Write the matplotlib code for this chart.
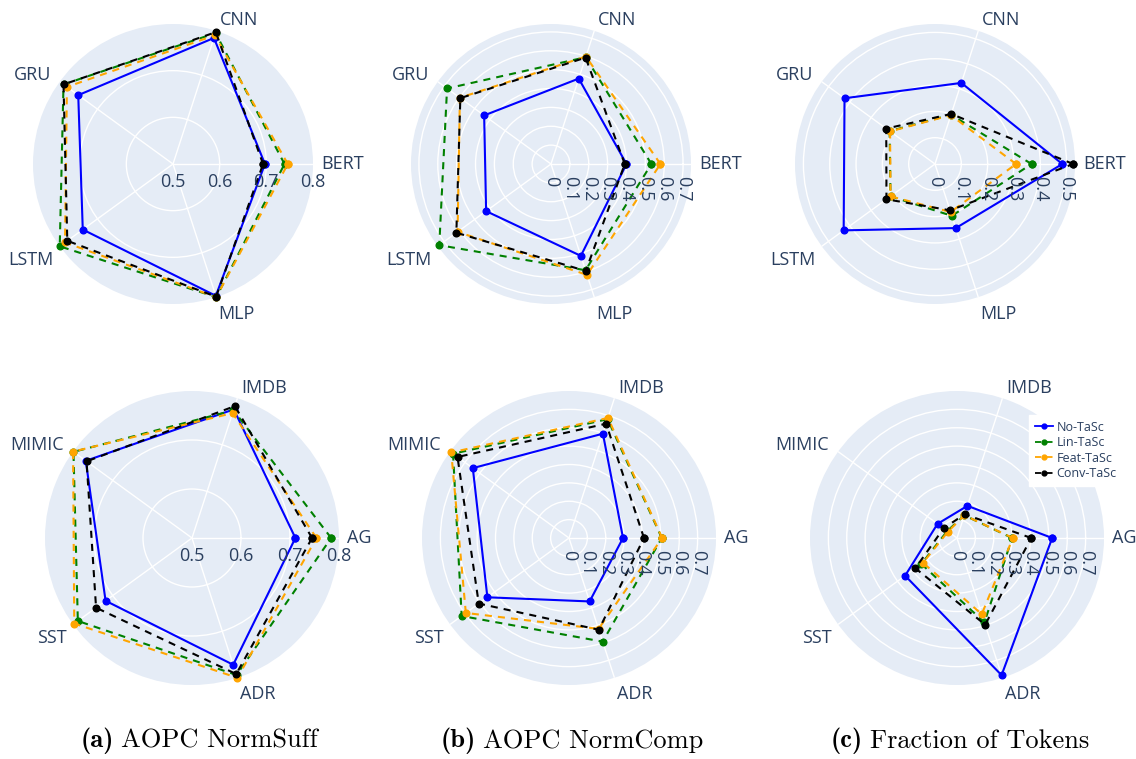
import numpy as np
import matplotlib.pyplot as plt

plt.rcParams['font.family'] = ['Open Sans', 'DejaVu Sans']

MODELS = ['BERT', 'CNN', 'GRU', 'LSTM', 'MLP']
DATASETS = ['AG', 'IMDB', 'MIMIC', 'SST', 'ADR']
METHODS = ['No-TaSc', 'Lin-TaSc', 'Feat-TaSc', 'Conv-TaSc']

# one value per model, in MODELS order
suff_by_model = {
    'No-TaSc':   [0.697, 0.784, 0.751, 0.739, 0.797],
    'Lin-TaSc':  [0.739, 0.795, 0.790, 0.800, 0.800],
    'Feat-TaSc': [0.746, 0.790, 0.781, 0.786, 0.800],
    'Conv-TaSc': [0.693, 0.797, 0.790, 0.780, 0.799],
}
comp_by_model = {
    'No-TaSc':   [0.400, 0.476, 0.438, 0.425, 0.512],
    'Lin-TaSc':  [0.532, 0.595, 0.681, 0.732, 0.592],
    'Feat-TaSc': [0.580, 0.599, 0.597, 0.612, 0.618],
    'Conv-TaSc': [0.391, 0.593, 0.594, 0.620, 0.596],
}
tokens_by_model = {
    'No-TaSc':   [0.484, 0.324, 0.425, 0.429, 0.256],
    'Lin-TaSc':  [0.367, 0.197, 0.213, 0.209, 0.207],
    'Feat-TaSc': [0.308, 0.195, 0.211, 0.209, 0.192],
    'Conv-TaSc': [0.525, 0.200, 0.229, 0.228, 0.185],
}

# one value per dataset, in DATASETS order
suff_by_dataset = {
    'No-TaSc':   [0.711, 0.776, 0.768, 0.718, 0.772],
    'Lin-TaSc':  [0.784, 0.774, 0.799, 0.788, 0.794],
    'Feat-TaSc': [0.754, 0.768, 0.800, 0.797, 0.800],
    'Conv-TaSc': [0.745, 0.783, 0.766, 0.742, 0.792],
}
comp_by_dataset = {
    'No-TaSc':   [0.294, 0.597, 0.647, 0.549, 0.363],
    'Lin-TaSc':  [0.505, 0.680, 0.780, 0.722, 0.593],
    'Feat-TaSc': [0.507, 0.687, 0.792, 0.694, 0.520],
    'Conv-TaSc': [0.408, 0.654, 0.750, 0.607, 0.525],
}
tokens_by_dataset = {
    'No-TaSc':   [0.518, 0.184, 0.131, 0.349, 0.785],
    'Lin-TaSc':  [0.300, 0.130, 0.065, 0.240, 0.483],
    'Feat-TaSc': [0.304, 0.130, 0.060, 0.229, 0.436],
    'Conv-TaSc': [0.404, 0.136, 0.090, 0.280, 0.496],
}

CAPTION_TAGS = ['(a)', '(b)', '(c)']
CAPTION_TEXTS = ['AOPC NormSuff', 'AOPC NormComp', 'Fraction of Tokens']

STYLE = {
    'No-TaSc':   dict(color='#0000ff', linestyle='-'),
    'Lin-TaSc':  dict(color='#008000', linestyle=(0, (3.4, 2.9))),
    'Feat-TaSc': dict(color='#ffa500', linestyle=(0, (3.4, 2.9))),
    'Conv-TaSc': dict(color='#000000', linestyle=(0, (3.4, 2.9))),
}

W, H = 1136, 759
TEXT = '#2a3f5f'
BG = '#E5ECF6'


def add_polar(fig, cx, cy, r):
    return fig.add_axes([(cx - r) / W, (H - cy - r) / H, 2 * r / W, 2 * r / H],
                        projection='polar')


def radar(ax, categories, series, rmin, rmax, grid, ticks, rotated):
    angles = np.deg2rad(np.arange(len(categories)) * 360 / len(categories))

    ax.set_facecolor(BG)
    ax.spines['polar'].set_visible(False)
    ax.set_ylim(rmin, rmax)
    ax.set_xticks(angles)
    ax.set_xticklabels([])
    ax.set_yticks(grid)
    ax.set_yticklabels([])
    ax.tick_params(length=0)
    ax.grid(color='white', linewidth=1)
    ax.set_axisbelow(True)

    closed = np.append(angles, angles[0])
    for z, name in enumerate(METHODS):
        values = series[name]
        ax.plot(closed, values + values[:1], marker='o', markersize=4.8,
                linewidth=1.5, label=name, clip_on=False, zorder=3 + z,
                **STYLE[name])

    # category names just outside the circle
    for theta, cat in zip(angles, categories):
        c, s = np.cos(theta), np.sin(theta)
        ha = 'left' if c > 0.1 else ('right' if c < -0.1 else 'center')
        va = 'top' if s < -0.1 else 'center'
        pad = 11 if s > 0.1 else 8
        ax.annotate(cat, xy=(theta, rmax), xytext=(c * pad, s * pad),
                    textcoords='offset pixels', ha=ha, va=va, fontsize=13,
                    color=TEXT, annotation_clip=False)

    # radial tick labels under the 0 degree spoke
    for v in ticks:
        label = f'{round(v, 1):g}'
        if rotated:
            ax.annotate(label, xy=(0, v), xytext=(0, -12),
                        textcoords='offset pixels', ha='center', va='top',
                        rotation=-90, fontsize=13, color=TEXT,
                        annotation_clip=False, zorder=10)
        else:
            ax.annotate(label, xy=(0, v), xytext=(0, -9),
                        textcoords='offset pixels', ha='center', va='top',
                        fontsize=13, color=TEXT, annotation_clip=False,
                        zorder=10)


fig = plt.figure(figsize=(W / 100, H / 100), dpi=100)

suff_grid = [0.6, 0.7]
suff_ticks = [0.5, 0.6, 0.7, 0.8]
tenths = list(np.round(np.arange(0, 0.75, 0.1), 1))

panels = [
    # centre x, centre y, radius, categories, data, rmin, rmax, grid, ticks, rotated
    (173, 164, 140, MODELS, suff_by_model, 0.5, 0.8, suff_grid, suff_ticks, False),
    (551, 164, 140, MODELS, comp_by_model, 0.0, 0.742, tenths[1:], tenths, True),
    (935, 164, 140, MODELS, tokens_by_model, 0.0, 0.532, tenths[1:6], tenths[:6], True),
    (192, 538, 147, DATASETS, suff_by_dataset, 0.5, 0.8, suff_grid, suff_ticks, False),
    (569, 538, 147, DATASETS, comp_by_dataset, 0.0, 0.8, tenths[1:], tenths, True),
    (957, 538, 147, DATASETS, tokens_by_dataset, 0.0, 0.8, tenths[1:], tenths, True),
]

axes = []
for cx, cy, r, cats, data, rmin, rmax, grid, ticks, rotated in panels:
    ax = add_polar(fig, cx, cy, r)
    radar(ax, cats, data, rmin, rmax, grid, ticks, rotated)
    axes.append(ax)

leg = axes[-1].legend(loc='upper left', bbox_to_anchor=(1029 / W, 1 - 415 / H),
                      bbox_transform=fig.transFigure, fontsize=9,
                      frameon=True, fancybox=False, framealpha=1,
                      facecolor='white', edgecolor='white', borderpad=0.45,
                      labelspacing=0.2, handlelength=1.45, handletextpad=0.3,
                      borderaxespad=0, labelcolor=TEXT)
leg.set_zorder(20)
for line in leg.get_lines():
    line.set_markersize(3.5)
    line.set_linewidth(1.3)

# sub-figure captions: bold tag followed by the roman title
for split, tag, text in zip([114, 476, 863], CAPTION_TAGS, CAPTION_TEXTS):
    fig.text(split / W, 1 - 741 / H, tag, ha='right', va='center',
             fontsize=19, family='cmb10')
    fig.text((split + 7) / W, 1 - 741 / H, text, ha='left', va='center',
             fontsize=19, family='cmr10')

fig.savefig('out.png', dpi=100)
